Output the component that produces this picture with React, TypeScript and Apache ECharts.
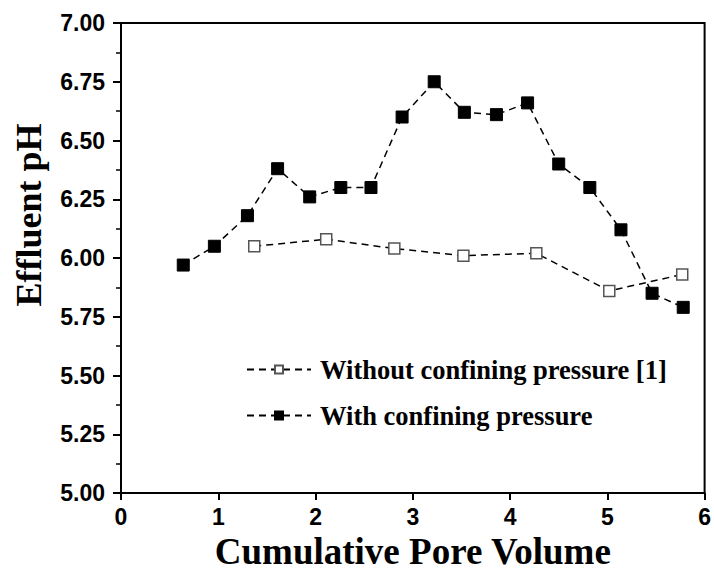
import React, { useEffect, useRef } from "react";
import * as echarts from "echarts";

const withoutX = [1.37, 2.11, 2.81, 3.52, 4.27, 5.02, 5.77];
const withoutY = [6.05, 6.08, 6.04, 6.01, 6.02, 5.86, 5.93];
const withX = [0.64, 0.96, 1.3, 1.61, 1.94, 2.26, 2.57, 2.89, 3.22, 3.53, 3.86, 4.18, 4.5, 4.82, 5.14, 5.46, 5.78];
const withY = [5.97, 6.05, 6.18, 6.38, 6.26, 6.3, 6.3, 6.6, 6.75, 6.62, 6.61, 6.66, 6.4, 6.3, 6.12, 5.85, 5.79];
const seriesNames = ["Without confining pressure [1]", "With confining pressure"];
const yTitle = "Effluent pH";
const xTitle = "Cumulative Pore Volume";

export default function App() {
  const ref = useRef<HTMLDivElement>(null);
  useEffect(() => {
    const chart = echarts.init(ref.current!, null, { renderer: "svg" });
    const tickLabel = {
      color: "#000",
      fontFamily: "Liberation Sans",
      fontWeight: "bold" as const,
      fontSize: 23,
    };
    chart.setOption({
      animation: false,
      backgroundColor: "#fff",
      grid: {
        left: 121,
        right: 8,
        top: 23,
        bottom: 78,
        show: true,
        borderColor: "#000",
        borderWidth: 2,
        backgroundColor: "transparent",
      },
      graphic: [
        {
          type: "text",
          x: 29,
          y: 215,
          rotation: Math.PI / 2,
          style: {
            text: yTitle,
            align: "center",
            verticalAlign: "middle",
            fill: "#000",
            font: "bold 36px 'Liberation Serif'",
          },
        },
      ],
      legend: {
        orient: "vertical",
        left: 241,
        top: 351,
        itemGap: 19,
        itemWidth: 64,
        itemHeight: 10,
        data: seriesNames,
        textStyle: {
          color: "#000",
          fontFamily: "Liberation Serif",
          fontWeight: "bold",
          fontSize: 26.5,
          padding: [0, 0, 0, 4],
        },
      },
      xAxis: {
        type: "value",
        min: 0,
        max: 6,
        interval: 1,
        name: xTitle,
        nameLocation: "middle",
        nameGap: 40,
        nameTextStyle: {
          color: "#000",
          fontFamily: "Liberation Serif",
          fontWeight: "bold",
          fontSize: 37,
        },
        axisLine: { lineStyle: { color: "#000", width: 2 } },
        axisTick: { inside: false, length: 7, lineStyle: { color: "#000", width: 2 } },
        axisLabel: { ...tickLabel, margin: 12 },
        splitLine: { show: false },
      },
      yAxis: {
        type: "value",
        min: 5,
        max: 7,
        interval: 0.25,
        axisLine: { lineStyle: { color: "#000", width: 2 } },
        axisTick: { inside: false, length: 8, lineStyle: { color: "#000", width: 2 } },
        minorTick: { show: true, splitNumber: 2, length: 5, lineStyle: { color: "#000", width: 1.5 } },
        axisLabel: {
          ...tickLabel,
          margin: 16,
          formatter: (v: number) => v.toFixed(2),
        },
        splitLine: { show: false },
      },
      series: [
        {
          name: seriesNames[0],
          type: "line",
          data: withoutX.map((x, i) => [x, withoutY[i]]),
          symbol: "rect",
          symbolSize: 11,
          itemStyle: { color: "#fff", borderColor: "#555", borderWidth: 1.5 },
          lineStyle: { color: "#000", width: 1.5, type: [7, 5] },
          z: 2,
        },
        {
          name: seriesNames[1],
          type: "line",
          data: withX.map((x, i) => [x, withY[i]]),
          symbol: "rect",
          symbolSize: 12,
          itemStyle: { color: "#000", borderColor: "#000", borderWidth: 1 },
          lineStyle: { color: "#000", width: 1.5, type: [7, 5] },
          z: 3,
        },
      ],
    });
    return () => chart.dispose();
  }, []);
  return <div ref={ref} style={{ width: 714, height: 575, position: "absolute", left: 0, top: 0 }} />;
}
